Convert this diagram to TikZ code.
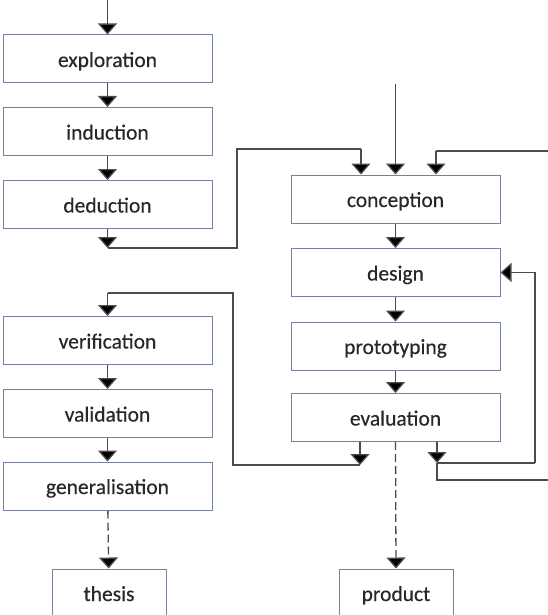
\documentclass[tikz,border=0pt]{standalone}
\usepackage{fontspec}
\setmainfont{Carlito}[FakeBold=0.35]
\usetikzlibrary{arrows.meta}
\definecolor{boxline}{RGB}{118,130,155}
\definecolor{wire}{RGB}{75,75,75}
\definecolor{ink}{RGB}{40,40,40}
\tikzset{
  stage/.style={draw=boxline, line width=1pt, fill=white, minimum width=209pt,
    minimum height=48pt, inner sep=0pt, text=ink, text height=16pt, text depth=0pt,
    font=\fontsize{21.5}{25}\selectfont},
  outcome/.style={stage, minimum width=114pt},
  flow/.style={draw=wire, line width=1.3pt,
    -{Triangle[width=19pt,length=11pt,fill=black]}},
  wireline/.style={draw=wire, line width=1.3pt},
  tentative/.style={flow, dash pattern=on 8pt off 4pt},
}
\begin{document}
\begin{tikzpicture}[x=1pt,y=-1pt]
\useasboundingbox (0,0) rectangle (548,615);

% research cycle (left column)
\node[stage] (expl) at (107.5,59)  {exploration};
\node[stage] (ind)  at (107.5,131.5) {induction};
\node[stage] (ded)  at (107.5,204.5) {deduction};
\node[stage] (ver)  at (107.5,340.5) {verification};
\node[stage] (val)  at (107.5,413.5) {validation};
\node[stage] (gen)  at (107.5,486)   {generalisation};
\node[outcome] (thesis) at (109,593) {thesis};

% design cycle (right column)
\node[stage] (conc) at (395.5,199)   {conception};
\node[stage] (des)  at (395.5,272.5) {design};
\node[stage] (prot) at (395.5,346)   {prototyping};
\node[stage] (eval) at (395.5,417.5) {evaluation};
\node[outcome] (prod) at (396,593) {product};

% free ends and bends
\coordinate (inL)  at (107.5,0);
\coordinate (inR)  at (395.5,84);
\coordinate (dedT) at (107.5,248);
\coordinate (kA)   at (237,248);
\coordinate (kB)   at (237,149);
\coordinate (kC)   at (361,149);
\coordinate (evL)  at (360,465);
\coordinate (kD)   at (233,465);
\coordinate (kE)   at (233,293);
\coordinate (kF)   at (107.5,293);
\coordinate (evR)  at (437,463);
\coordinate (kG)   at (437,480);
\coordinate (kH)   at (548,480);
\coordinate (kI)   at (535,463);
\coordinate (kJ)   at (535,272.5);
\coordinate (kK)   at (548,151);
\coordinate (kL)   at (436,151);

% main flow
\draw[flow] (inL) -- (expl);
\draw[flow] (expl) -- (ind);
\draw[flow] (ind) -- (ded);
\draw[flow] (ded) -- (dedT);
\draw[flow] (ver) -- (val);
\draw[flow] (val) -- (gen);
\draw[tentative] (gen) -- (thesis);

\draw[flow] (inR) -- (conc);
\draw[flow] (conc) -- (des);
\draw[flow] (des) -- (prot);
\draw[flow] (prot) -- (eval);
\draw[tentative] (eval.south) -- (prod.north);

% cross links and feedback loops
\draw[wireline] (dedT) -- (kA) -- (kB) -- (kC);
\draw[flow] (kC) -- (kC |- conc.north);

\draw[flow] (evL |- eval.south) -- (evL);
\draw[wireline] (evL) -- (kD) -- (kE) -- (kF);
\draw[flow] (kF) -- (ver);

\draw[flow] (evR |- eval.south) -- (evR);
\draw[wireline] (evR) -- (kG) -- (kH);
\draw[wireline] (evR) -- (kI);
\draw[flow] (kI) -- (kJ) -- (des.east);

\draw[wireline] (kK) -- (kL);
\draw[flow] (kL) -- (kL |- conc.north);
\end{tikzpicture}
\end{document}
